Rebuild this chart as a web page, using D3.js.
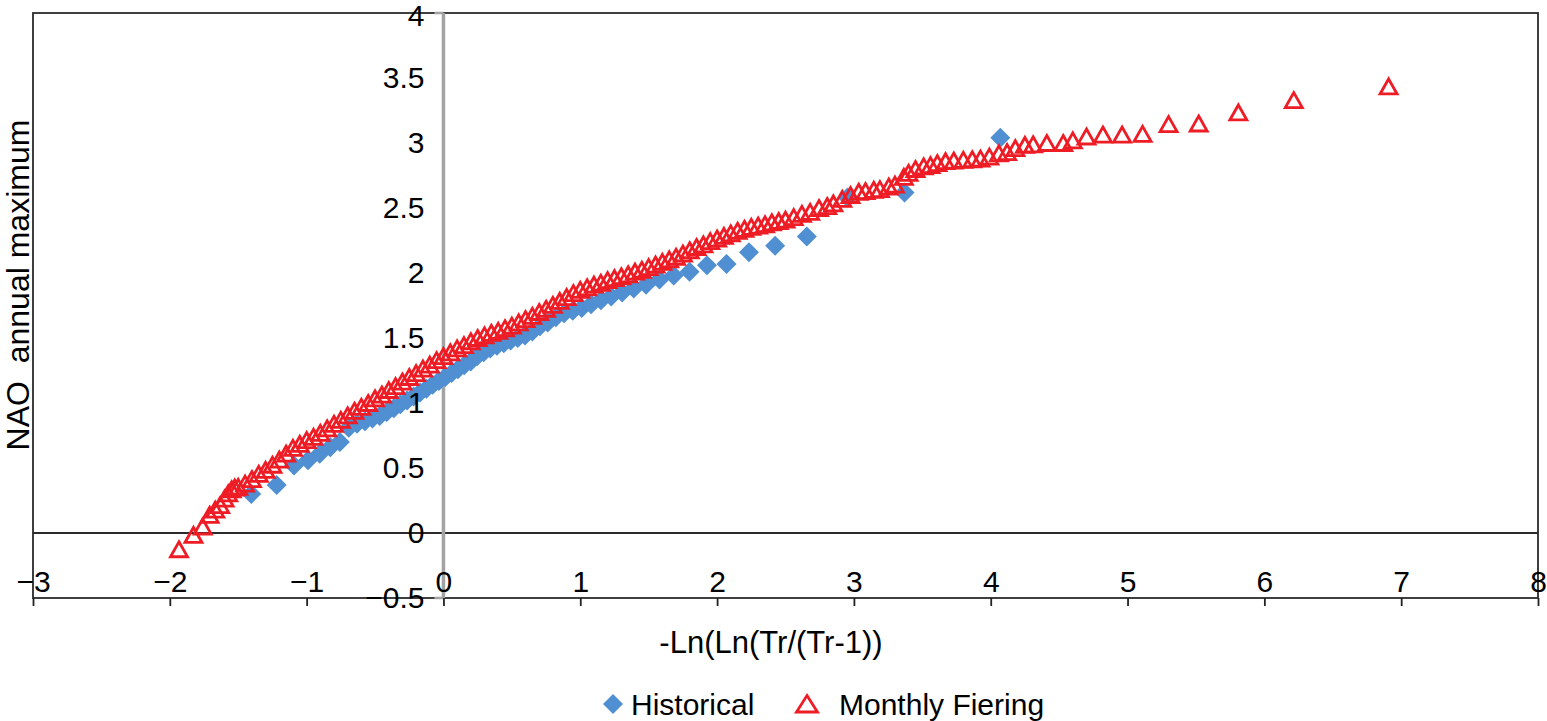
<!DOCTYPE html>
<html>
<head>
<meta charset="utf-8">
<script src="https://cdn.jsdelivr.net/npm/d3@7"></script>
<style>
  body{margin:0;background:#fff;}
  svg text{font-family:'Liberation Sans', Arial, sans-serif;fill:#000;}
</style>
</head>
<body>
<svg id="chart" width="1547" height="721"></svg>
<script>

// historical annual maxima (reduced variate, value)
const histX = [-1.405,-1.219,-1.092,-0.990,-0.904,-0.827,-0.757,-0.692,-0.632,-0.574,
  -0.519,-0.466,-0.414,-0.363,-0.315,-0.266,-0.218,-0.171,-0.125,-0.079,
  -0.033,0.014,0.060,0.106,0.152,0.199,0.246,0.294,0.342,0.391,
  0.441,0.491,0.543,0.596,0.650,0.705,0.762,0.821,0.882,0.945,
  1.011,1.079,1.151,1.226,1.306,1.391,1.481,1.579,1.683,1.799,
  1.926,2.069,2.233,2.424,2.656,2.953,3.37,4.07];
const histY = [0.30,0.37,0.52,0.56,0.61,0.66,0.70,0.81,0.84,0.86,
  0.88,0.90,0.93,0.96,0.99,1.02,1.05,1.08,1.11,1.14,
  1.17,1.20,1.23,1.26,1.29,1.32,1.36,1.39,1.42,1.44,
  1.46,1.48,1.50,1.52,1.55,1.59,1.62,1.66,1.69,1.71,
  1.73,1.76,1.79,1.82,1.85,1.88,1.91,1.95,1.98,2.01,
  2.06,2.07,2.16,2.21,2.28,2.58,2.62,3.04];

// monthly fiering generated maxima
const fierX = [-1.933,-1.827,-1.760,-1.709,-1.668,-1.632,-1.600,-1.573,-1.548,-1.526,
  -1.50,-1.45,-1.40,-1.35,-1.30,-1.25,-1.20,-1.15,-1.10,-1.05,
  -1.00,-0.95,-0.90,-0.85,-0.80,-0.75,-0.70,-0.65,-0.60,-0.55,
  -0.50,-0.45,-0.40,-0.35,-0.30,-0.25,-0.20,-0.15,-0.10,-0.05,
  0.00,0.05,0.10,0.15,0.20,0.25,0.30,0.35,0.40,0.45,
  0.50,0.55,0.60,0.65,0.70,0.75,0.80,0.85,0.90,0.95,
  1.00,1.05,1.10,1.15,1.20,1.25,1.30,1.35,1.40,1.45,
  1.50,1.55,1.60,1.65,1.70,1.75,1.80,1.85,1.90,1.95,
  2.00,2.05,2.10,2.15,2.20,2.25,2.30,2.35,2.40,2.45,
  2.50,2.56,2.62,2.68,2.745,2.805,2.85,2.915,2.975,3.035,
  3.085,3.145,3.19,3.255,3.30,3.365,3.40,3.45,3.51,3.56,
  3.61,3.67,3.73,3.80,3.865,3.925,3.99,4.06,4.12,4.18,
  4.25,4.31,4.41,4.53,4.60,4.70,4.82,4.96,5.11,5.30,
  5.52,5.81,6.215,6.908];
const fierY = [-0.125,-0.015,0.05,0.14,0.18,0.215,0.265,0.305,0.335,0.35,
  0.355,0.38,0.415,0.455,0.485,0.525,0.565,0.61,0.655,0.685,
  0.715,0.74,0.77,0.805,0.84,0.87,0.905,0.94,0.97,1.00,
  1.035,1.065,1.10,1.13,1.165,1.20,1.23,1.265,1.295,1.33,
  1.36,1.39,1.42,1.445,1.475,1.50,1.52,1.54,1.555,1.575,
  1.595,1.62,1.645,1.67,1.70,1.725,1.755,1.785,1.815,1.845,
  1.87,1.89,1.91,1.925,1.945,1.96,1.975,1.99,2.01,2.025,
  2.045,2.065,2.085,2.105,2.125,2.15,2.175,2.20,2.22,2.245,
  2.265,2.285,2.305,2.325,2.34,2.355,2.365,2.375,2.39,2.40,
  2.41,2.43,2.455,2.47,2.50,2.515,2.535,2.57,2.60,2.625,
  2.63,2.64,2.645,2.665,2.68,2.74,2.77,2.80,2.82,2.83,
  2.845,2.86,2.865,2.87,2.875,2.88,2.895,2.92,2.93,2.96,
  2.985,2.99,3.00,3.00,3.02,3.05,3.065,3.065,3.07,3.145,
  3.15,3.235,3.33,3.435];

const xTicks = [-3,-2,-1,0,1,2,3,4,5,6,7,8];
const yTicks = [-0.5,0,0.5,1,1.5,2,2.5,3,3.5,4];
const seriesNames = ['Historical','Monthly Fiering'];
const xTitle = '-Ln(Ln(Tr/(Tr-1))';
const yTitle = 'NAO  annual maximum';

const blue = '#4f8fd2',
      red = '#ee1c25';

drawChart();

function drawChart(){
  const svg = d3.select('#chart');

  const x = d3.scaleLinear().domain([-3, 8]).range([33, 1538]);
  const y = d3.scaleLinear().domain([-0.5, 4]).range([598, 13]);
  const fmt = d3.format('');

  // plot frame
  svg.append('rect')
    .attr('x', x(-3)).attr('y', y(4))
    .attr('width', x(8) - x(-3)).attr('height', y(-0.5) - y(4))
    .attr('fill', 'none').attr('stroke', '#2b2b2b').attr('stroke-width', 1.8);

  // zero line
  svg.append('line')
    .attr('x1', x(-3)).attr('x2', x(8))
    .attr('y1', y(0)).attr('y2', y(0))
    .attr('stroke', '#2b2b2b').attr('stroke-width', 1.8);

  // vertical axis at x = 0 (grey)
  svg.append('line')
    .attr('x1', x(0)).attr('x2', x(0))
    .attr('y1', y(4)).attr('y2', y(-0.5))
    .attr('stroke', '#a3a3a3').attr('stroke-width', 3.5);

  [4, -0.5].forEach(function(v){
    svg.append('line')
      .attr('x1', x(0) - 9).attr('x2', x(0))
      .attr('y1', y(v)).attr('y2', y(v))
      .attr('stroke', '#a3a3a3').attr('stroke-width', 2.5);
  });

  // bottom ticks hang below the frame
  const xTickAxis = svg.append('g')
    .attr('transform', `translate(0,${y(-0.5)})`)
    .call(d3.axisBottom(x).tickValues(xTicks).tickSize(8).tickFormat(''));
  xTickAxis.select('.domain').remove();
  xTickAxis.selectAll('line').attr('stroke', '#222').attr('stroke-width', 1.8);

  // historical diamonds
  const diamond = 'M0,-10L10,0L0,10L-10,0Z';
  svg.append('g').selectAll('path')
    .data(d3.range(histX.length))
    .join('path')
    .attr('d', diamond)
    .attr('transform', i => `translate(${x(histX[i])},${y(histY[i])})`)
    .attr('fill', blue);

  // fiering triangles
  const triangle = 'M0,-7.5L8.5,7.5L-8.5,7.5Z';
  svg.append('g').selectAll('path')
    .data(d3.range(fierX.length))
    .join('path')
    .attr('d', triangle)
    .attr('transform', i => `translate(${x(fierX[i])},${y(fierY[i])})`)
    .attr('fill', 'none')
    .attr('stroke', red)
    .attr('stroke-width', 2.8);

  // x labels sit above the bottom line
  const xLabels = svg.append('g')
    .attr('transform', `translate(0,${y(-0.5)})`)
    .call(d3.axisTop(x).tickValues(xTicks).tickSize(0).tickPadding(6).tickFormat(fmt));
  xLabels.select('.domain').remove();
  xLabels.selectAll('text').attr('font-size', 30).attr('fill', '#000');

  // y labels left of the grey axis
  const yLabels = svg.append('g')
    .attr('transform', `translate(${x(0)},0)`)
    .call(d3.axisLeft(y).tickValues(yTicks).tickSize(0).tickPadding(19).tickFormat(fmt));
  yLabels.select('.domain').remove();
  yLabels.selectAll('text').attr('font-size', 30).attr('fill', '#000');
  yLabels.selectAll('.tick').filter(d => d === 4).select('text').attr('dy', '0.4em');

  // titles
  svg.append('text')
    .attr('x', 771).attr('y', 653)
    .attr('text-anchor', 'middle')
    .attr('font-size', 31)
    .text(xTitle);

  svg.append('text')
    .attr('transform', 'translate(29,285) rotate(-90)')
    .attr('text-anchor', 'middle')
    .attr('font-size', 32)
    .style('white-space', 'pre')
    .text(yTitle);

  // legend
  const legend = svg.append('g');
  legend.append('path')
    .attr('d', 'M0,-10L10,0L0,10L-10,0Z')
    .attr('transform', 'translate(613,704)')
    .attr('fill', blue);
  legend.append('text')
    .attr('x', 631).attr('y', 715)
    .attr('font-size', 30)
    .text(seriesNames[0]);
  legend.append('path')
    .attr('d', 'M0,-8.5L10.5,8L-10.5,8Z')
    .attr('transform', 'translate(807,704)')
    .attr('fill', 'none')
    .attr('stroke', red)
    .attr('stroke-width', 2.8);
  legend.append('text')
    .attr('x', 839).attr('y', 715)
    .attr('font-size', 30)
    .text(seriesNames[1]);
}
</script>
</body>
</html>
